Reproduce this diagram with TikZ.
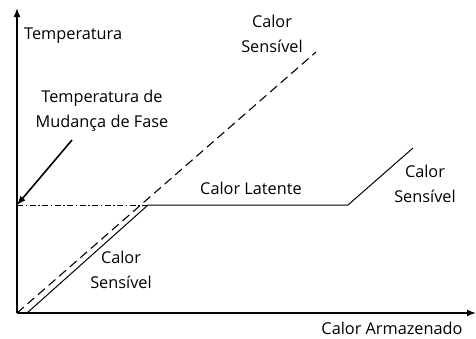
\documentclass[tikz,border=0pt]{standalone}
\usepackage{fontspec}
\setmainfont{Open Sans}
\usetikzlibrary{arrows.meta}

\begin{document}
\begin{tikzpicture}[x=1pt,y=-1pt,font=\fontsize{16.3}{24.5}\selectfont,
  axis/.style={line width=1.6pt,-{Latex[length=9pt,width=7pt]}},
  rotulo/.style={align=center,inner sep=0pt}]
\useasboundingbox (0,0) rectangle (476,338);
% eixos
\coordinate (orig) at (17,313);
\coordinate (ytop) at (17,8);
\coordinate (xend) at (476,313);
\draw[axis] (orig) -- (ytop);
\draw[axis] (orig) -- (xend);
% curvas
\coordinate (fase) at (17,205);
\coordinate (s0) at (27,313);
\coordinate (c1) at (148,205);
\coordinate (c2) at (348,205);
\coordinate (c3) at (413,148);
\coordinate (d1) at (316,52);
\draw[line width=0.8pt,dash pattern=on 6pt off 2.5pt on 1.5pt off 2.5pt] (fase) -- (c1);
\draw[line width=1pt] (s0) -- (c1) -- (c2) -- (c3);
\draw[line width=1.1pt,dash pattern=on 9pt off 5pt] (orig) -- (d1);
% textos
\node[rotulo,anchor=west] (temp) at (24,36) {Temperatura};
\node[rotulo] (sens1) at (272,34) {Calor\\Sensível};
\node[rotulo] (mud) at (102,111) {Temperatura de\\Mudança de Fase};
\node[rotulo] (lat) at (251,188) {Calor Latente};
\node[rotulo] (sens2) at (425,184) {Calor\\Sensível};
\node[rotulo] (sens3) at (121,270) {Calor\\Sensível};
\node[rotulo] (arm) at (392,328) {Calor Armazenado};
\coordinate (seta) at (72,140);
\draw[line width=1.6pt,-{Latex[length=9pt,width=7pt]}] (seta) -- (fase);
\end{tikzpicture}
\end{document}
